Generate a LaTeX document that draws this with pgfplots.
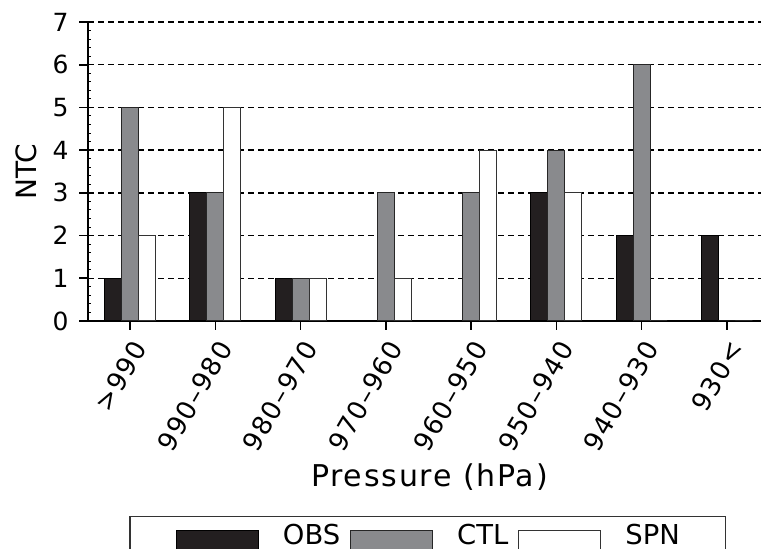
\documentclass[border=0pt]{standalone}
\usepackage{fontspec}
\setmainfont{DejaVu Sans}
\newfontfamily\tickfont[LetterSpace=6]{DejaVu Sans}
\newfontfamily\labfont[LetterSpace=6]{DejaVu Sans}
\usepackage{pgfplots}
\pgfplotsset{compat=1.18}
\definecolor{obsc}{RGB}{35,31,32}
\definecolor{ctlc}{RGB}{137,138,141}
\pgfplotsset{
  mylegimg/.style={legend image code/.code={%
    \draw[##1, line width=0.5pt] (0pt,0pt) rectangle (41pt,9.5pt);
    \path (41pt,0pt) -- (48pt,0pt);}},
}
\begin{document}
\begin{tikzpicture}
\begin{axis}[
  scale only axis, width=336.5pt, height=149.5pt,
  xmin=-0.493, xmax=7.40, ymin=0, ymax=7,
  axis x line=bottom, axis y line=left,
  axis line style={-, line width=1pt, black},
  xtick={0,...,7},
  xticklabels={>990, 990\textendash980, 980\textendash970, 970\textendash960, 960\textendash950, 950\textendash940, 940\textendash930, 930<},
  ytick={0,...,7}, minor y tick num=4,
  tick align=outside, major tick length=4.5pt, minor tick length=1.5pt,
  tick style={line width=0.8pt, black},
  minor tick style={xshift=1.5pt, line width=0.5pt},
  ymajorgrids,
  grid style={dash pattern=on 3pt off 2pt, line width=0.7pt, black},
  /pgf/number format/assume math mode=true,
  yticklabel style={font=\fontsize{12.5}{14}\selectfont, inner sep=0pt, xshift=-5pt},
  xticklabel style={font=\tickfont\fontsize{13}{14}\selectfont, inner sep=0pt, xshift=5pt, yshift=-6.5pt, rotate=60, anchor=east},
  xlabel={Pressure (hPa)},
  xlabel style={at={(axis description cs:0.5074,-0.5552)}, anchor=base, font=\labfont\fontsize{15}{18}\selectfont, inner sep=0pt},
  ylabel={NTC},
  ylabel style={at={(axis description cs:-0.0758,0.5)}, anchor=south, font=\fontsize{14}{16}\selectfont, inner sep=0pt},
  legend columns=3,
  legend style={at={(axis description cs:0.505,-0.652)}, anchor=north, draw=black!80, line width=0.7pt,
    inner xsep=23pt, inner ysep=4pt, column sep=5pt, font=\fontsize{13.7}{16}\selectfont,
    nodes={inner sep=0pt, yshift=6.5pt}},
]
\addplot[ybar, bar width=8.5pt, bar shift=-8.5pt, fill=obsc, draw=black, line width=0.5pt, mylegimg]
  coordinates {(0,1) (1,3) (2,1) (3,0) (4,0) (5,3) (6,2) (7,2)};
\addlegendentry{OBS}
\addplot[ybar, bar width=8.5pt, bar shift=0pt, fill=ctlc, draw=black!85, line width=0.5pt, mylegimg]
  coordinates {(0,5) (1,3) (2,1) (3,3) (4,3) (5,4) (6,6) (7,0)};
\addlegendentry{CTL}
\addplot[ybar, bar width=8.5pt, bar shift=8.5pt, fill=white, draw=black!80, line width=0.5pt, mylegimg]
  coordinates {(0,2) (1,5) (2,1) (3,1) (4,4) (5,3) (6,0) (7,0)};
\addlegendentry{SPN}
\coordinate (O) at (rel axis cs:0,0);
\end{axis}
\pgfresetboundingbox
\path (O) ++(-44pt,-114pt) rectangle ++(380.5pt,274.5pt);
\end{tikzpicture}
\end{document}
